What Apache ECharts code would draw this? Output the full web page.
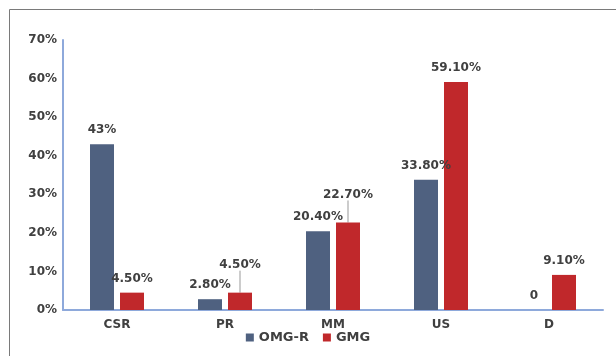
<!DOCTYPE html>
<html>
<head>
<meta charset="utf-8">
<script src="https://cdn.jsdelivr.net/npm/echarts@6/dist/echarts.min.js"></script>
<style>
  html, body { margin: 0; padding: 0; background: #fff; }
  #chart { width: 616px; height: 356px; }
</style>
</head>
<body>
<div id="chart"></div>
<script>
const categories = ['CSR', 'PR', 'MM', 'US', 'D'];
const omgR = [43, 2.8, 20.4, 33.8, 0];
const gmg = [4.5, 4.5, 22.7, 59.1, 9.1];
const omgRLabels = ['43%', '2.80%', '20.40%', '33.80%', '0'];
const gmgLabels = ['4.50%', '4.50%', '22.70%', '59.10%', '9.10%'];
// labels pulled up with a leader line in the original
const gmgRaised = [false, true, true, false, false];

const font = 'DejaVu Sans, Verdana, sans-serif';
const textColor = '#404040';

const chart = echarts.init(document.getElementById('chart'));

chart.setOption({
    animation: false,
    graphic: [
        {
            type: 'rect',
            shape: { x: 9.5, y: 9.5, width: 700, height: 400 },
            style: { fill: 'none', stroke: '#7a7a7a', lineWidth: 1 },
        },
    ],
    grid: { left: 63, right: 13, top: 40, bottom: 46 },
    legend: {
        bottom: 7,
        left: 'center',
        itemWidth: 8,
        itemHeight: 8,
        itemGap: 14,
        icon: 'rect',
        textStyle: { fontFamily: font, fontWeight: 'bold', fontSize: 13, color: textColor },
        data: ['OMG-R', 'GMG'],
    },
    xAxis: {
        type: 'category',
        data: categories,
        axisLine: { lineStyle: { color: '#8ea9db', width: 2 } },
        axisTick: { show: false },
        axisLabel: { margin: 9, fontFamily: font, fontWeight: 'bold', fontSize: 12, color: textColor },
    },
    yAxis: {
        type: 'value',
        min: 0,
        max: 70,
        interval: 10,
        splitLine: { show: false },
        axisLine: { show: true, lineStyle: { color: '#8ea9db', width: 2 } },
        axisTick: { show: false },
        axisLabel: {
            margin: 6,
            formatter: '{value}%',
            fontFamily: font, fontWeight: 'bold', fontSize: 12, color: textColor,
        },
    },
    series: [
        {
            name: 'OMG-R',
            type: 'bar',
            barWidth: 24,
            barGap: '25%',
            data: omgR,
            itemStyle: { color: '#4f6180' },
            label: {
                show: true,
                position: 'top',
                distance: 8,
                formatter: p => omgRLabels[p.dataIndex],
                fontFamily: font, fontWeight: 'bold', fontSize: 12, color: textColor,
            },
        },
        {
            name: 'GMG',
            type: 'bar',
            barWidth: 24,
            data: gmg.map((v, i) => gmgRaised[i] ? { value: v, labelLine: { show: true } } : v),
            itemStyle: { color: '#c0282b' },
            label: {
                show: true,
                position: 'top',
                distance: 8,
                formatter: p => gmgLabels[p.dataIndex],
                fontFamily: font, fontWeight: 'bold', fontSize: 12, color: textColor,
            },
            labelLine: { show: false, lineStyle: { color: '#999', width: 1 } },
            labelLayout: p => (gmgRaised[p.dataIndex] ? { dy: -14 } : {}),
        },
    ],
});
</script>
</body>
</html>
